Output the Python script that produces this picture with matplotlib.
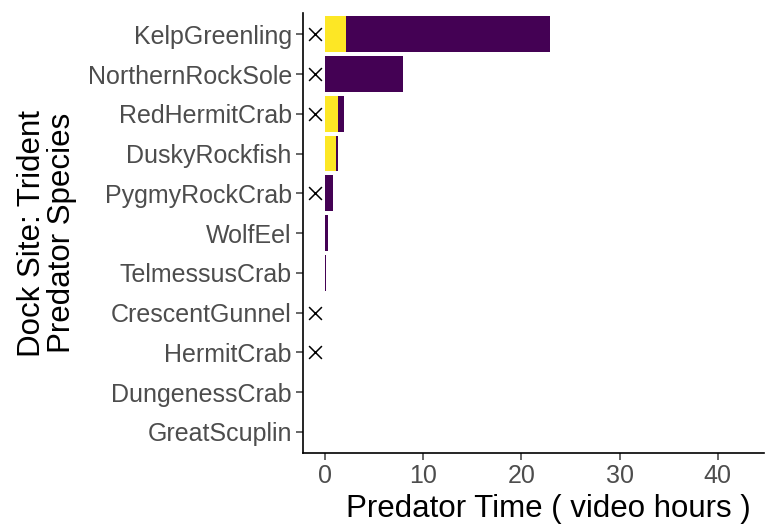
import numpy as np
import matplotlib.pyplot as plt

plt.rcParams['font.family'] = ['Liberation Sans', 'DejaVu Sans']

species = ['KelpGreenling', 'NorthernRockSole', 'RedHermitCrab', 'DuskyRockfish',
           'PygmyRockCrab', 'WolfEel', 'TelmessusCrab', 'CrescentGunnel',
           'HermitCrab', 'DungenessCrab', 'GreatScuplin']
# hours, yellow segment first then purple segment
yellow_hours = [2.07, 0.0, 1.3, 1.13, 0.0, 0.0, 0.0, 0.0, 0.0, 0.0, 0.0]
purple_hours = [20.83, 7.9, 0.64, 0.17, 0.79, 0.32, 0.08, 0.0, 0.0, 0.0, 0.0]
# species with an x marker
marked = ['KelpGreenling', 'NorthernRockSole', 'RedHermitCrab', 'PygmyRockCrab',
          'CrescentGunnel', 'HermitCrab']
marker_x = -1

ypos = np.arange(len(species))[::-1]

fig = plt.figure(figsize=(7.68, 5.26), dpi=100)
ax = fig.add_axes([0.3945, 0.1388, 0.6, 0.836])

ax.barh(ypos, yellow_hours, height=0.9, color='#FDE725')
ax.barh(ypos, purple_hours, left=yellow_hours, height=0.9, color='#440154')

my = [ypos[species.index(s)] for s in marked]
ax.scatter([marker_x] * len(my), my, marker='x', color='black', s=85, linewidths=1.1, zorder=3)

ax.set_xlim(-2.27, 44.7)
ax.set_ylim(-0.53, 10.53)
ax.set_xticks([0, 10, 20, 30, 40])
ax.set_yticks(ypos)
ax.set_yticklabels(species)

for s in ['top', 'right']:
    ax.spines[s].set_visible(False)
for s in ['left', 'bottom']:
    ax.spines[s].set_linewidth(1.2)
ax.tick_params(axis='both', labelsize=18, colors='#4D4D4D', length=5, width=1.2, pad=3)

ax.set_xlabel('Predator Time ( video hours )', fontsize=22.5)
ax.xaxis.set_label_coords(0.533, -0.093)
ax.set_ylabel('Dock Site: Trident\nPredator Species', fontsize=22.5, labelpad=8,
              linespacing=1.0)

fig.savefig('out.png', dpi=100)
